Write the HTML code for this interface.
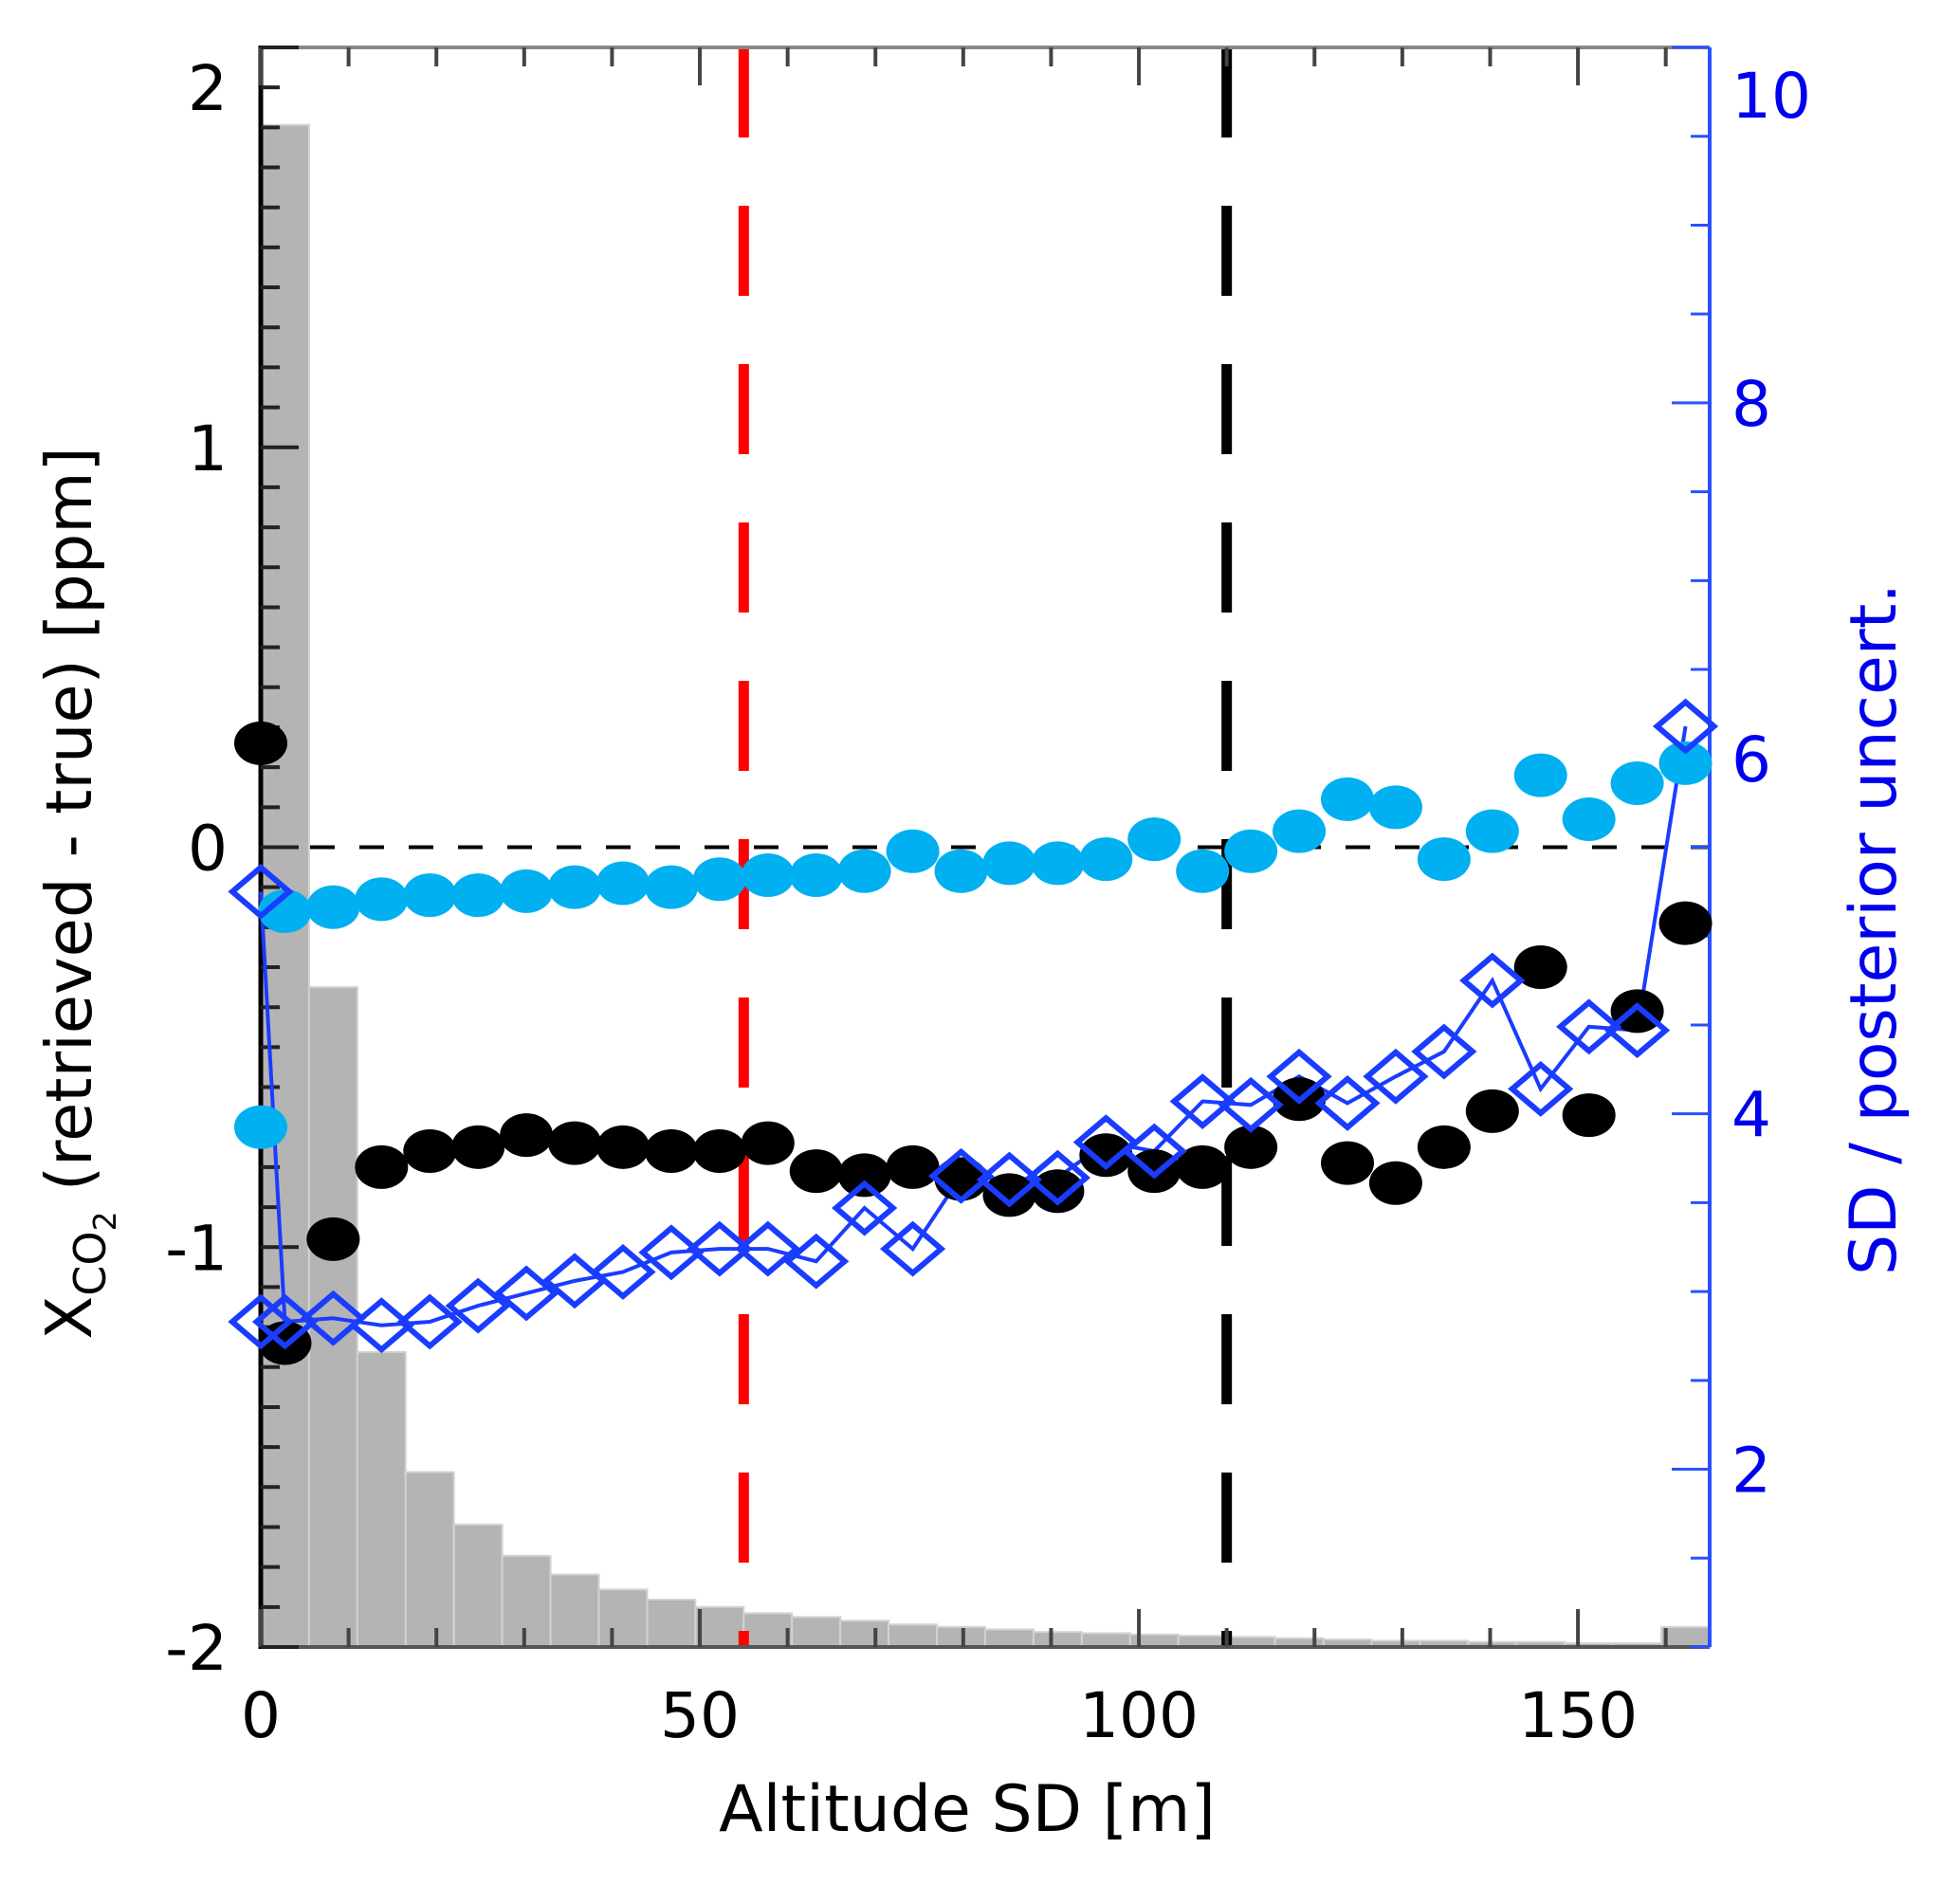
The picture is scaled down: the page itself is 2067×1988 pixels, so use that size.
<!DOCTYPE html>
<html><head><meta charset="utf-8"><style>
body{margin:0;background:#fff}
svg{display:block}
text{font-family:"DejaVu Sans","Liberation Sans",sans-serif}
</style></head>
<body>
<svg id="chart" width="2067" height="1988" viewBox="0 0 2067 1988" xmlns="http://www.w3.org/2000/svg">
<g id="hist"></g>
<g id="axes"></g>
<g id="marks"></g>
</svg>
<script>
// ---- data ----
const binWidth = 5.5;
const histCounts = [1218,528,236,140,98,73,58,46,38,32,27,24,21,18,16,14,12,11,10,9,8,7,6,5,5,4,4,3,3,16];
const firstX = 0;
const blackFirst = 0.26;
const blackVals = [-1.24,-0.98,-0.80,-0.76,-0.75,-0.72,-0.74,-0.75,-0.76,-0.76,-0.74,-0.81,-0.82,-0.80,-0.83,-0.87,-0.86,-0.77,-0.81,-0.80,-0.75,-0.63,-0.79,-0.84,-0.75,-0.66,-0.30,-0.67,-0.41,-0.19];
const cyanFirst = -0.70;
const cyanVals = [-0.16,-0.15,-0.13,-0.12,-0.12,-0.11,-0.10,-0.09,-0.10,-0.08,-0.07,-0.07,-0.06,-0.01,-0.06,-0.04,-0.04,-0.03,0.02,-0.06,-0.01,0.04,0.12,0.10,-0.03,0.04,0.18,0.07,0.16,0.21];
const diamondFirst = 5.25;
const diamondVals = [2.83,2.85,2.81,2.83,2.92,2.99,3.06,3.11,3.22,3.24,3.24,3.17,3.47,3.24,3.65,3.63,3.64,3.84,3.79,4.07,4.05,4.21,4.06,4.21,4.35,4.75,4.14,4.49,4.47,6.18];
const xTicks = [0,50,100,150];
const leftTicks = [2,1,0,-1,-2];
const rightTicks = [2,4,6,8,10];
const redLineX = 55, blackLineX = 110;

// ---- scales ----
const X0=275, X1=1803, YT=50, YB=1737;
const xs = v => X0 + (v/165)*(X1-X0);
const yl = v => YB - (v+2)/4*(YB-YT);
const yr = v => YB - (v-1)/9*(YB-YT);
const yh = c => YB - c/1280*(YB-YT);
const NS='http://www.w3.org/2000/svg';
function mk(tag, attrs, parent){const e=document.createElementNS(NS,tag);for(const k in attrs)e.setAttribute(k,attrs[k]);parent.appendChild(e);return e;}
const H=document.getElementById('hist'), A=document.getElementById('axes'), M=document.getElementById('marks');

// histogram
histCounts.forEach((c,i)=>{
  const r=mk('rect',{x:xs(i*binWidth),y:yh(c),width:xs(binWidth)-xs(0),height:YB-yh(c),fill:'#b4b4b4',stroke:'#d2d2d2','stroke-width':2},H);
  
  
});

// zero line
const z=mk('line',{x1:X0,x2:X1,y1:yl(0),y2:yl(0),stroke:'#000','stroke-width':4,'stroke-dasharray':'26 26'},A);



// vertical dashed lines
const rl=mk('line',{x1:xs(redLineX),x2:xs(redLineX),y1:YT,y2:YB,stroke:'#ff0000','stroke-width':11,'stroke-dasharray':'95 72'},A);


const bl=mk('line',{x1:xs(blackLineX),x2:xs(blackLineX),y1:YT,y2:YB,stroke:'#000','stroke-width':11,'stroke-dasharray':'95 72'},A);



// axes frame
mk('line',{x1:X0,x2:X1,y1:YT,y2:YT,stroke:'#888','stroke-width':4},A);
mk('line',{x1:X0,x2:X1,y1:YB,y2:YB,stroke:'#555','stroke-width':4},A);
mk('line',{x1:X0,x2:X0,y1:YT-2,y2:YB+2,stroke:'#000','stroke-width':5},A);
mk('line',{x1:X1,x2:X1,y1:YT,y2:YB,stroke:'#2a50ff','stroke-width':4},A);
// x ticks
for(let v=0;v<=160;v+=10){
  const big=v%50===0;
  mk('line',{x1:xs(v),x2:xs(v),y1:YT,y2:YT+(big?40:20),stroke:'#444','stroke-width':4},A);
  mk('line',{x1:xs(v),x2:xs(v),y1:YB,y2:YB-(big?40:20),stroke:'#444','stroke-width':4},A);
}
// left ticks
for(let i=0;i<=40;i++){const v=-2+i*0.1;const big=i%10===0;
  mk('line',{x1:X0,x2:X0+(big?40:20),y1:yl(v),y2:yl(v),stroke:'#222','stroke-width':4},A);}
// right ticks
for(let i=0;i<=18;i++){const v=1+i*0.5;const big=Math.abs(v-Math.round(v))<1e-6&&Math.round(v)%2===0;
  mk('line',{x1:X1,x2:X1-(big?40:20),y1:yr(v),y2:yr(v),stroke:'#2a50ff','stroke-width':3},A);}

// tick labels
xTicks.forEach(v=>{const t=mk('text',{x:xs(v),y:1832,'font-size':66,'text-anchor':'middle',fill:'#000'},A);t.textContent=v;
  });
leftTicks.forEach(v=>{const y=v===2?yl(2)+66:yl(v)+24;const t=mk('text',{x:240,y:y,'font-size':66,'text-anchor':'end',fill:'#000'},A);t.textContent=v;
  });
rightTicks.forEach(v=>{const y=v===10?yr(10)+74:yr(v)+24;const t=mk('text',{x:1826,y:y,'font-size':66,'text-anchor':'start',fill:'#0000ee'},A);t.textContent=v;
  });

// blue line + diamonds
const dpts=[[firstX,diamondFirst]].concat(diamondVals.map((v,i)=>[binWidth/2+i*binWidth,v]));
const pl=mk('polyline',{points:dpts.map(p=>xs(p[0])+','+yr(p[1])).join(' '),fill:'none',stroke:'#1a3cff','stroke-width':4},M);



// black dots
[[firstX,blackFirst]].concat(blackVals.map((v,i)=>[binWidth/2+i*binWidth,v])).forEach(p=>{
  const e=mk('ellipse',{cx:xs(p[0]),cy:yl(p[1]),rx:28,ry:23,fill:'#000'},M);
  
  
});
// cyan dots
[[firstX,cyanFirst]].concat(cyanVals.map((v,i)=>[binWidth/2+i*binWidth,v])).forEach(p=>{
  const e=mk('ellipse',{cx:xs(p[0]),cy:yl(p[1]),rx:28,ry:23,fill:'#00b0f0'},M);
  
  
});
// diamonds
dpts.concat([[firstX,diamondVals[0]]]).forEach(p=>{
  const cx=xs(p[0]),cy=yr(p[1]),r=30;
  const d=mk('polygon',{points:`${cx-r},${cy} ${cx},${cy-r*0.85} ${cx+r},${cy} ${cx},${cy+r*0.85}`,fill:'none',stroke:'#1a3cff','stroke-width':6},M);
  
  
});
</script>
<svg style="position:absolute;left:0;top:0" width="2067" height="1988">
<text x="1020" y="1931" font-size="68" text-anchor="middle" fill="#000" font-family="DejaVu Sans, Liberation Sans, sans-serif">Altitude SD [m]</text>
<text transform="translate(96,942) rotate(-90)" font-size="67" text-anchor="middle" fill="#000" font-family="DejaVu Sans, Liberation Sans, sans-serif">X<tspan font-size="46" dy="15">CO</tspan><tspan font-size="33" dy="11">2</tspan><tspan dy="-26"> (retrieved - true) [ppm]</tspan></text>
<text transform="translate(1999,980) rotate(-90)" font-size="68" text-anchor="middle" fill="#0000ee" font-family="DejaVu Sans, Liberation Sans, sans-serif">SD / posterior uncert.</text>
</svg>
</body></html>
